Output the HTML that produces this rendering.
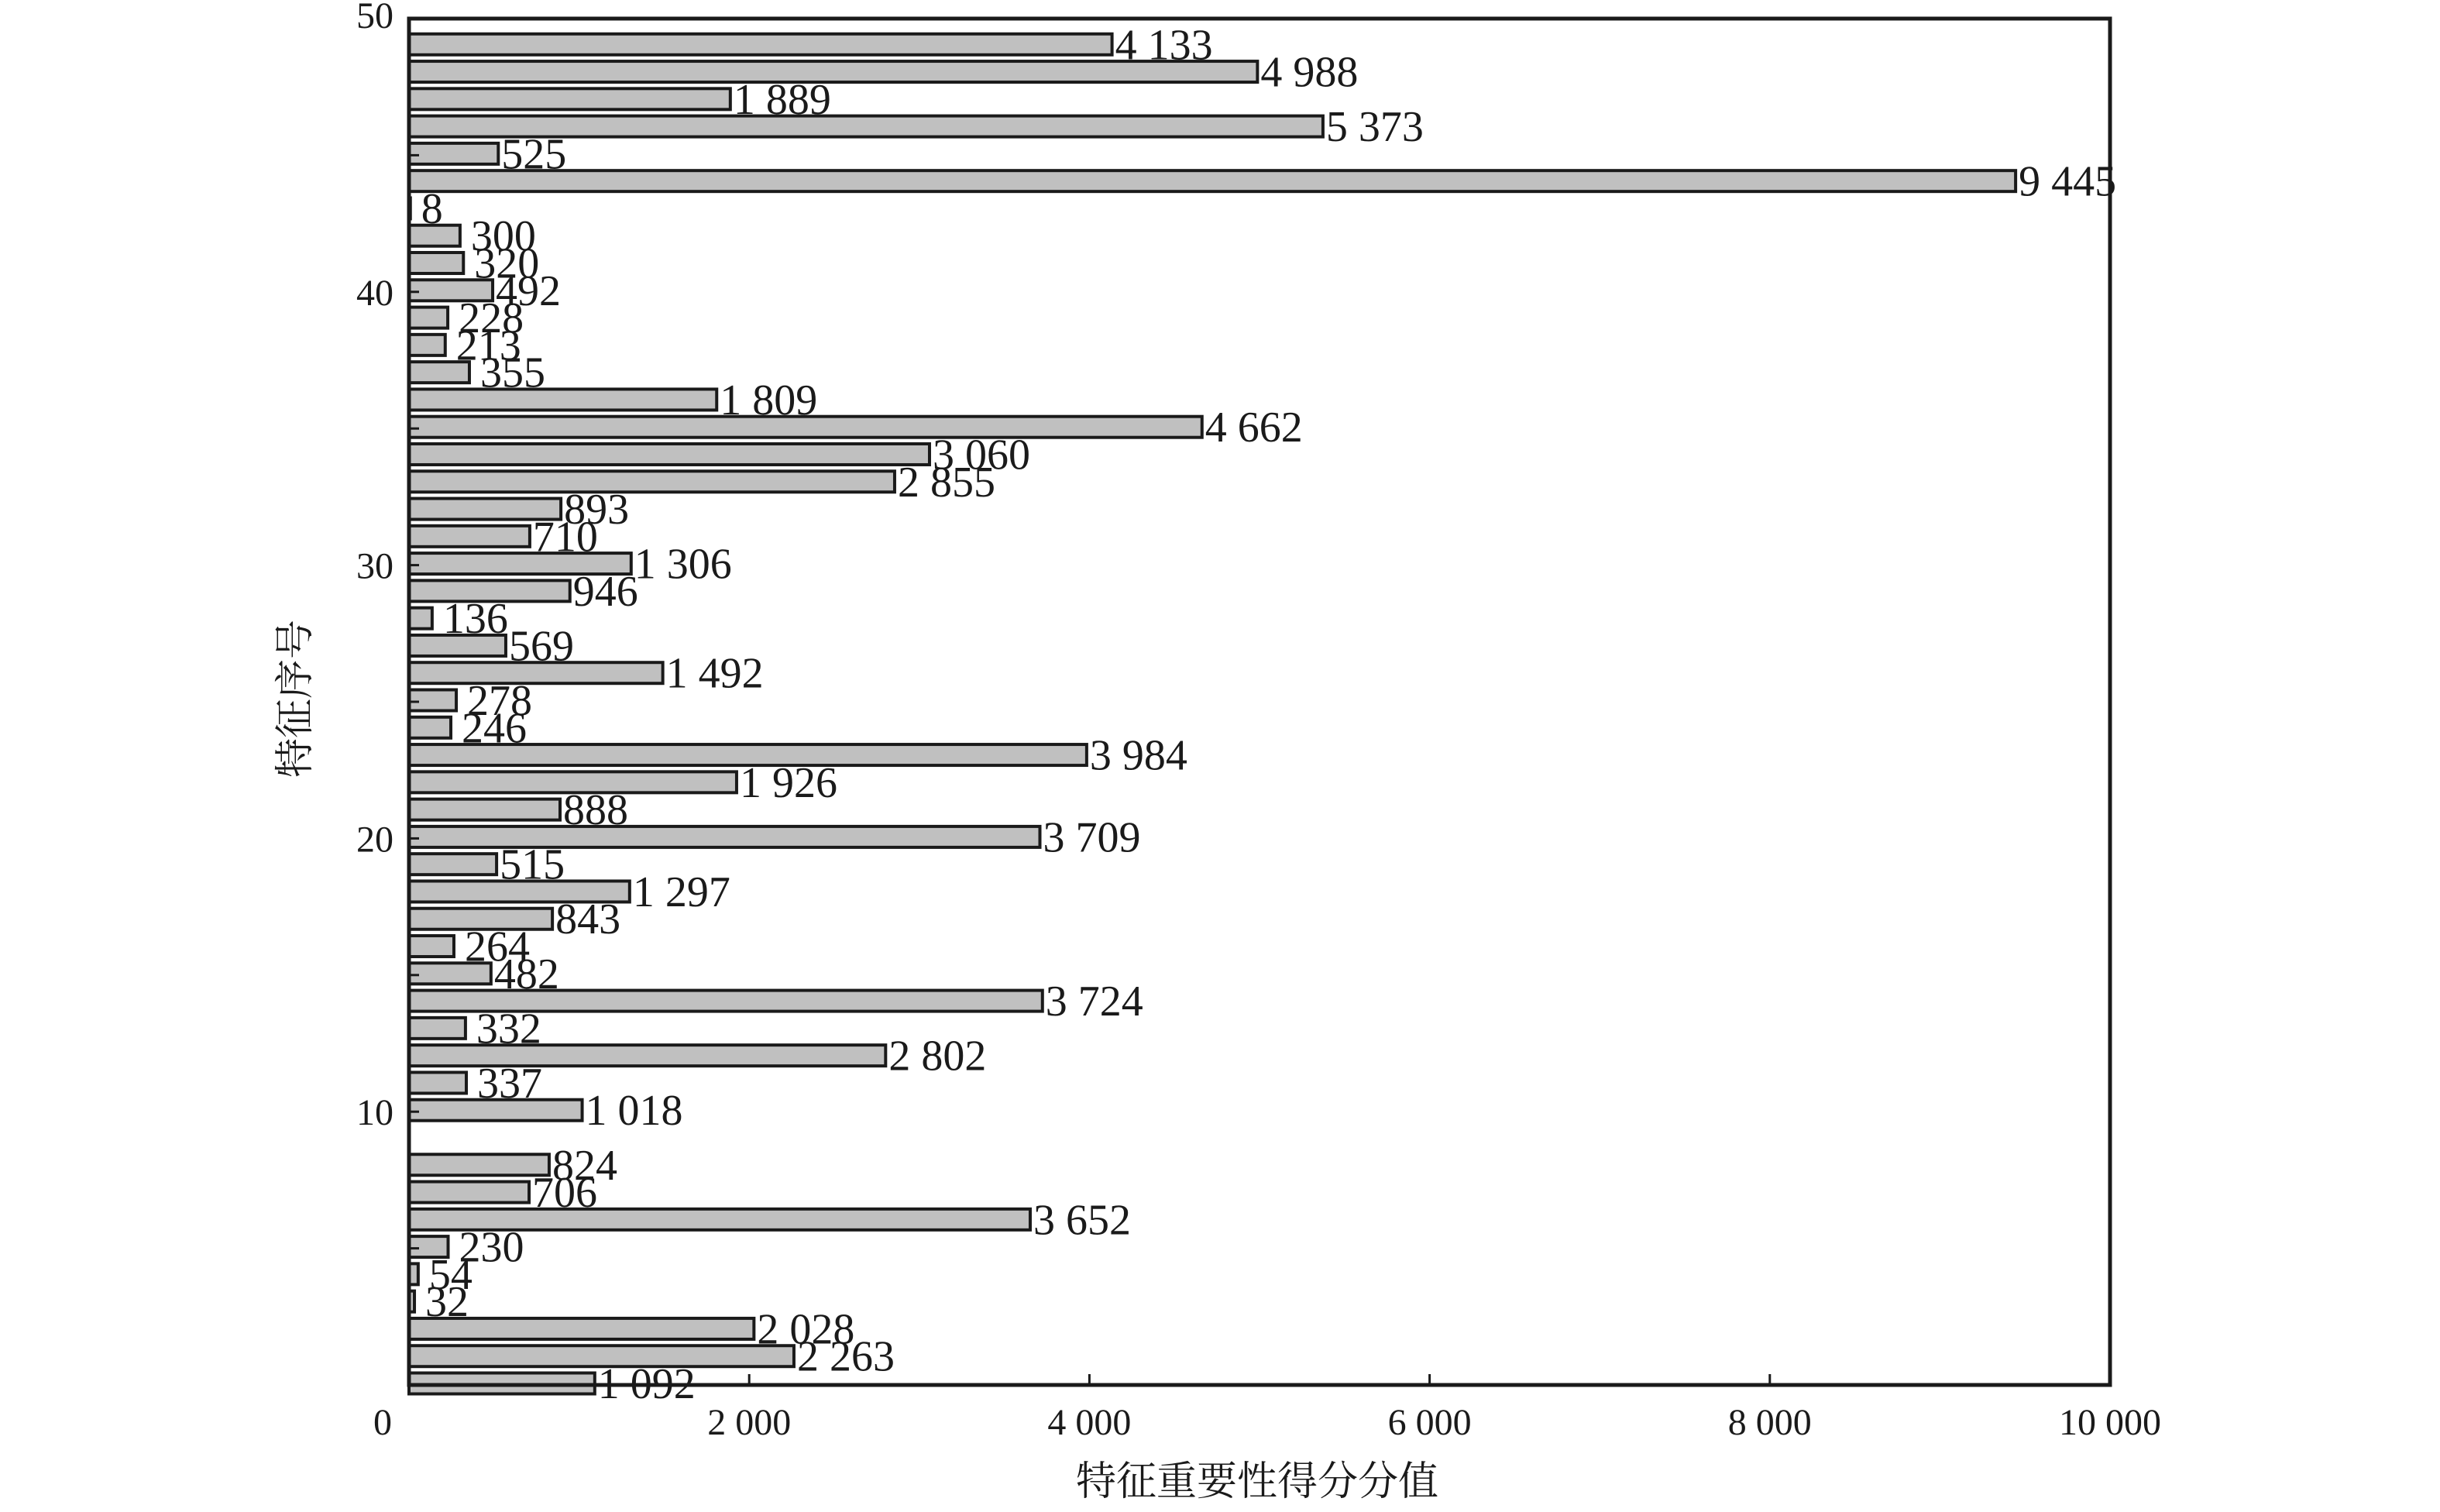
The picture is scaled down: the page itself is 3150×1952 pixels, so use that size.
<!DOCTYPE html>
<html><head><meta charset="utf-8"><style>
html,body{margin:0;padding:0;background:#fff;}
svg text{font-family:"Liberation Serif","Noto Serif CJK SC",serif;fill:#1a1a1a;}
</style></head><body>
<svg id="chart" width="3150" height="1947" viewBox="0 0 3150 1947" xmlns="http://www.w3.org/2000/svg">
<g id="bars"></g>
<g id="labels"></g>
<g id="axes"></g>
<text x="0" y="0" font-size="51" text-anchor="middle" transform="translate(398,902) rotate(-90)">特征序号</text>
<text x="1623" y="1930" font-size="52" text-anchor="middle">特征重要性得分分值</text>
</svg>
<script>
const featureIndex = [0,1,2,3,4,5,6,7,8,9,10,11,12,13,14,15,16,17,18,19,20,21,22,23,24,25,26,27,28,29,30,31,32,33,34,35,36,37,38,39,40,41,42,43,44,45,46,47,48,49];
const scores = [1092,2263,2028,32,54,230,3652,706,824,0,1018,337,2802,332,3724,482,264,843,1297,515,3709,888,1926,3984,246,278,1492,569,136,946,1306,710,893,2855,3060,4662,1809,355,213,228,492,320,300,8,9445,525,5373,1889,4988,4133];
const xTicks = [0,2000,4000,6000,8000,10000];
const xTickLabels = ["0","2 000","4 000","6 000","8 000","10 000"];
const yTicks = [10,20,30,40,50];
const yMinorTicks = [5,15,25,35,45];

const L=528,R=2724,T=24,B=1788;
const xMax=10000,yMax=50;
const sx=v=>L+(v/xMax)*(R-L);
const sy=v=>B-(v/yMax)*(B-T);
const NS="http://www.w3.org/2000/svg";
function mk(tag,parent){const e=document.createElementNS(NS,tag);parent.appendChild(e);return e;}
const fmt=v=>{const s=String(v);return s.length>3?s.slice(0,s.length-3)+" "+s.slice(-3):s;};

const gb=document.getElementById('bars'),gl=document.getElementById('labels'),ga=document.getElementById('axes');
const bh=27;
featureIndex.forEach((f,i)=>{
  const v=scores[i];
  const cy=sy(f)-2;
  if(v>0){
    const r=mk('rect',gb);
    
    
    r.setAttribute('x',L);r.setAttribute('y',cy-bh/2);
    r.setAttribute('width',Math.max(sx(v)-L,1));r.setAttribute('height',bh);
    r.setAttribute('fill','#c0c0c0');r.setAttribute('stroke','#1a1a1a');r.setAttribute('stroke-width','4');
  }
  if(v>0){
    const t=mk('text',gl);
    
    
    t.setAttribute('x',sx(v)+(v<400?14:4));t.setAttribute('y',cy+19);
    t.setAttribute('font-size','56');
    t.textContent=fmt(v);
  }
});

const frame=mk('rect',ga);


frame.setAttribute('x',L);frame.setAttribute('y',T);frame.setAttribute('width',R-L);frame.setAttribute('height',B-T);
frame.setAttribute('fill','none');frame.setAttribute('stroke','#1a1a1a');frame.setAttribute('stroke-width','5');

xTicks.forEach((v,i)=>{
  const x=sx(v);
  const tk=mk('line',ga);
  
  
  tk.setAttribute('x1',x);tk.setAttribute('x2',x);tk.setAttribute('y1',B);tk.setAttribute('y2',B-14);
  tk.setAttribute('stroke','#1a1a1a');tk.setAttribute('stroke-width','3');
  const t=mk('text',ga);
  
  
  t.setAttribute('x',i===0?x-34:x);t.setAttribute('y',1852);
  t.setAttribute('font-size','48');t.setAttribute('text-anchor','middle');
  t.textContent=xTickLabels[i];
});
yTicks.concat(yMinorTicks).forEach(v=>{
  const y=sy(v);
  const tk=mk('line',ga);
  
  
  tk.setAttribute('x1',L);tk.setAttribute('x2',L+13);tk.setAttribute('y1',y);tk.setAttribute('y2',y);
  tk.setAttribute('stroke','#1a1a1a');tk.setAttribute('stroke-width','3');
});
yTicks.forEach(v=>{
  const t=mk('text',ga);
  
  
  t.setAttribute('x',508);t.setAttribute('y',sy(v)+(v===50?12:17));
  t.setAttribute('font-size','48');t.setAttribute('text-anchor','end');
  t.textContent=String(v);
});
</script>
</body></html>
